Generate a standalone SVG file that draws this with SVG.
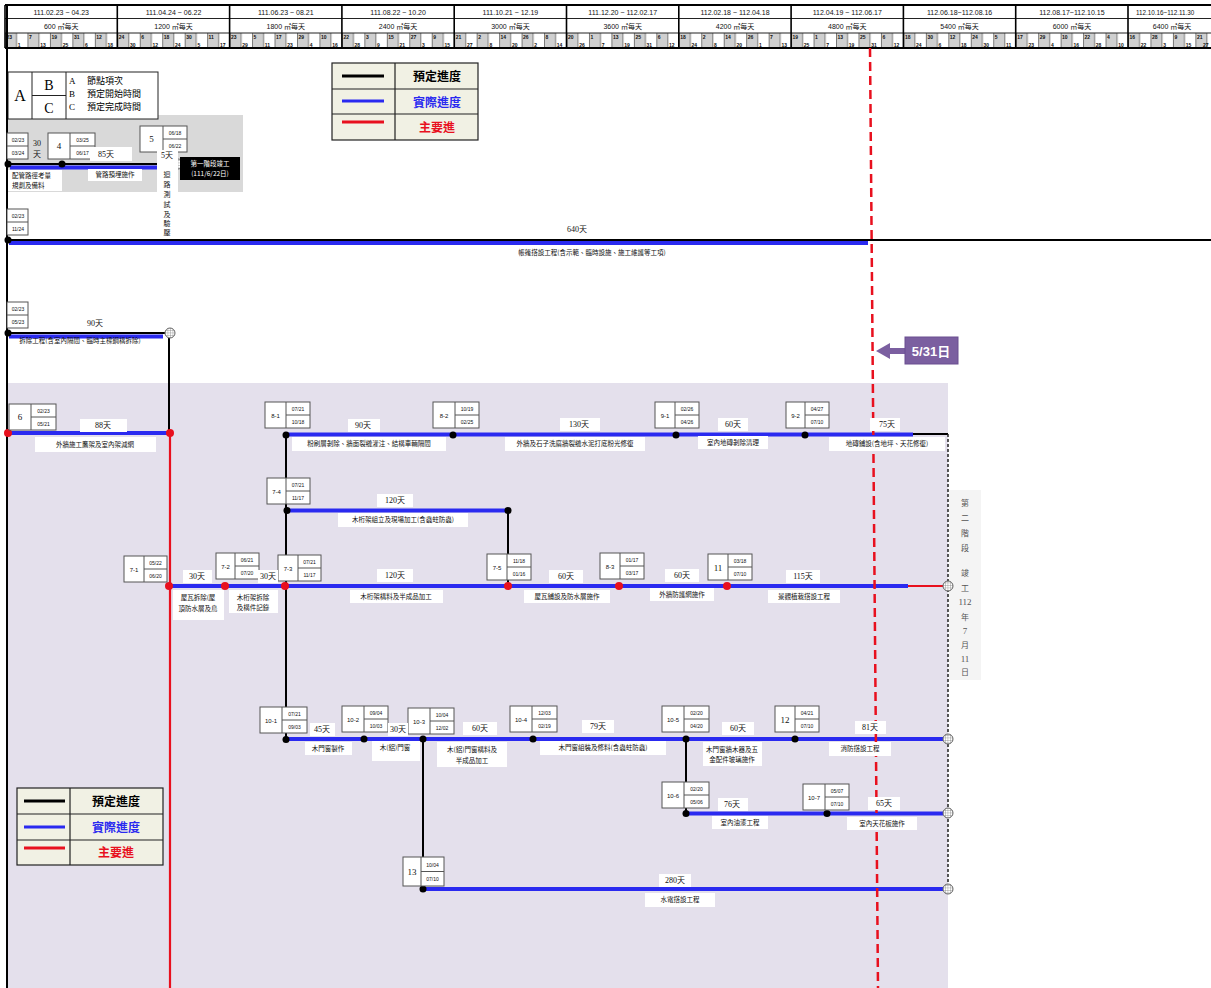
<svg xmlns="http://www.w3.org/2000/svg" width="1211" height="988" viewBox="0 0 1211 988">
<defs>
<pattern id="dayCells" x="5" y="33" width="22.46" height="15" patternUnits="userSpaceOnUse">
<rect width="11.23" height="15" fill="#cfcfcf"/><rect x="11.23" width="11.23" height="15" fill="#fff"/>
<path d="M0.3 0V15M11.53 0V15" stroke="#333" stroke-width="0.7"/>
</pattern>
<pattern id="grid" width="2.5" height="2.5" patternUnits="userSpaceOnUse">
<rect width="2.5" height="2.5" fill="#fff"/><path d="M0 0H2.5M0 0V2.5" stroke="#777" stroke-width="0.7"/>
</pattern>
<style>
.hd{font:7px "Liberation Sans","Noto Sans CJK TC",sans-serif;text-anchor:middle;fill:#111}
.dn{font:bold 5px "Liberation Sans",sans-serif;fill:#111}
.lb{font:6.5px "Noto Sans CJK TC",sans-serif;text-anchor:middle;fill:#111}
.du{font:8px "Liberation Serif","Noto Sans CJK TC",serif;text-anchor:middle;fill:#111}
.nb{fill:#fff;stroke:#555;stroke-width:1}
.nl{stroke:#555;stroke-width:1;fill:none}
.nn{font:6px "Liberation Sans",sans-serif;text-anchor:middle;fill:#111}
.nb2{font:9px "Liberation Serif",serif;text-anchor:middle;fill:#111}
.nd{font:5px "Liberation Sans",sans-serif;text-anchor:middle;fill:#111}
.bg{fill:#fff}
.pl{stroke:#000;stroke-width:2;fill:none}
.ac{stroke:#2a2af0;stroke-width:4;fill:none}
.cr{stroke:#e8101e;stroke-width:2.2;fill:none}
.dot{fill:#000}
.rdot{fill:#e8101e}
.end{fill:url(#grid);stroke:#666;stroke-width:1}
.lg{font:bold 12px "Noto Sans CJK TC",sans-serif;text-anchor:middle}
.vt{font:8px "Noto Sans CJK TC","Liberation Serif",serif;text-anchor:middle;fill:#555}
.vs{font:7px "Noto Sans CJK TC",sans-serif;text-anchor:middle;fill:#111}
</style>
</defs>

<rect width="1211" height="988" fill="#fff"/>

<!-- Backgrounds -->
<rect x="8" y="115" width="235" height="77" fill="#d9d9d9"/>
<rect x="8" y="383" width="940" height="605" fill="#e4e0ec"/>
<rect x="949" y="490" width="32" height="190" fill="#f4f4f4"/>

<!-- Header -->
<g id="header">
<rect x="5" y="33" width="1206" height="15" fill="url(#dayCells)"/>
<path d="M5 5H1211M5 18.5H1211M5 33H1211M5 48H1211" stroke="#222" stroke-width="1"/>
<path d="M5 5H1211M5 48H1211" stroke="#000" stroke-width="2"/>
<path d="M5 5V48M117.3 5V48M229.6 5V48M341.9 5V48M454.2 5V48M566.5 5V48M678.8 5V48M791.1 5V48M903.4 5V48M1015.7 5V48M1128 5V48" stroke="#000" stroke-width="1.6"/>
<text class="hd" x="61.2" y="15">111.02.23 ~ 04.23</text>
<text class="hd" x="173.5" y="15">111.04.24 ~ 06.22</text>
<text class="hd" x="285.8" y="15">111.06.23 ~ 08.21</text>
<text class="hd" x="398.1" y="15">111.08.22 ~ 10.20</text>
<text class="hd" x="510.4" y="15">111.10.21 ~ 12.19</text>
<text class="hd" x="622.7" y="15">111.12.20 ~ 112.02.17</text>
<text class="hd" x="735" y="15">112.02.18 ~ 112.04.18</text>
<text class="hd" x="847.3" y="15">112.04.19 ~ 112.06.17</text>
<text class="hd" x="959.6" y="15">112.06.18~112.08.16</text>
<text class="hd" x="1071.9" y="15">112.08.17~112.10.15</text>
<text class="hd" x="1136" y="15" style="text-anchor:start;font-size:6.3px">112.10.16~112.11.30</text>
<text class="hd" x="61.2" y="29">600 ㎡每天</text>
<text class="hd" x="173.5" y="29">1200 ㎡每天</text>
<text class="hd" x="285.8" y="29">1800 ㎡每天</text>
<text class="hd" x="398.1" y="29">2400 ㎡每天</text>
<text class="hd" x="510.4" y="29">3000 ㎡每天</text>
<text class="hd" x="622.7" y="29">3600 ㎡每天</text>
<text class="hd" x="735" y="29">4200 ㎡每天</text>
<text class="hd" x="847.3" y="29">4800 ㎡每天</text>
<text class="hd" x="959.6" y="29">5400 ㎡每天</text>
<text class="hd" x="1071.9" y="29">6000 ㎡每天</text>
<text class="hd" x="1172" y="29">6400 ㎡每天</text>
<text class="dn" y="39"><tspan x="6.5">23</tspan><tspan x="29">7</tspan><tspan x="51.4">19</tspan><tspan x="73.9">31</tspan><tspan x="96.3">12</tspan><tspan x="118.8">24</tspan><tspan x="141.3">6</tspan><tspan x="163.7">18</tspan><tspan x="186.2">30</tspan><tspan x="208.6">11</tspan><tspan x="231.1">23</tspan><tspan x="253.6">5</tspan><tspan x="276">17</tspan><tspan x="298.5">29</tspan><tspan x="320.9">10</tspan><tspan x="343.4">22</tspan><tspan x="365.9">3</tspan><tspan x="388.3">15</tspan><tspan x="410.8">27</tspan><tspan x="433.2">9</tspan><tspan x="455.7">21</tspan><tspan x="478.2">2</tspan><tspan x="500.6">14</tspan><tspan x="523.1">26</tspan><tspan x="545.5">8</tspan><tspan x="568">20</tspan><tspan x="590.5">1</tspan><tspan x="612.9">13</tspan><tspan x="635.4">25</tspan><tspan x="657.8">6</tspan><tspan x="680.3">18</tspan><tspan x="702.8">2</tspan><tspan x="725.2">14</tspan><tspan x="747.7">26</tspan><tspan x="770.1">7</tspan><tspan x="792.6">19</tspan><tspan x="815.1">1</tspan><tspan x="837.5">13</tspan><tspan x="860">25</tspan><tspan x="882.4">6</tspan><tspan x="904.9">18</tspan><tspan x="927.4">30</tspan><tspan x="949.8">12</tspan><tspan x="972.3">24</tspan><tspan x="994.7">5</tspan><tspan x="1017.2">17</tspan><tspan x="1039.7">29</tspan><tspan x="1062.1">10</tspan><tspan x="1084.6">22</tspan><tspan x="1107">4</tspan><tspan x="1129.5">16</tspan><tspan x="1152">28</tspan><tspan x="1174.4">9</tspan><tspan x="1196.9">21</tspan></text>
<text class="dn" y="46.5"><tspan x="17.7">1</tspan><tspan x="40.2">13</tspan><tspan x="62.7">25</tspan><tspan x="85.1">6</tspan><tspan x="107.6">18</tspan><tspan x="130">30</tspan><tspan x="152.5">12</tspan><tspan x="175">24</tspan><tspan x="197.4">5</tspan><tspan x="219.9">17</tspan><tspan x="242.3">29</tspan><tspan x="264.8">11</tspan><tspan x="287.3">23</tspan><tspan x="309.7">4</tspan><tspan x="332.2">16</tspan><tspan x="354.6">28</tspan><tspan x="377.1">9</tspan><tspan x="399.6">21</tspan><tspan x="422">3</tspan><tspan x="444.5">15</tspan><tspan x="466.9">27</tspan><tspan x="489.4">8</tspan><tspan x="511.9">20</tspan><tspan x="534.3">2</tspan><tspan x="556.8">14</tspan><tspan x="579.2">26</tspan><tspan x="601.7">7</tspan><tspan x="624.2">19</tspan><tspan x="646.6">31</tspan><tspan x="669.1">12</tspan><tspan x="691.5">24</tspan><tspan x="714">8</tspan><tspan x="736.5">20</tspan><tspan x="758.9">1</tspan><tspan x="781.4">13</tspan><tspan x="803.8">25</tspan><tspan x="826.3">7</tspan><tspan x="848.8">19</tspan><tspan x="871.2">31</tspan><tspan x="893.7">12</tspan><tspan x="916.1">24</tspan><tspan x="938.6">6</tspan><tspan x="961.1">18</tspan><tspan x="983.5">30</tspan><tspan x="1006">11</tspan><tspan x="1028.4">23</tspan><tspan x="1050.9">4</tspan><tspan x="1073.4">16</tspan><tspan x="1095.8">28</tspan><tspan x="1118.3">10</tspan><tspan x="1140.7">22</tspan><tspan x="1163.2">3</tspan><tspan x="1185.7">15</tspan><tspan x="1203">27</tspan></text>
</g>

<!-- Legends -->
<g id="legend-abc">
<rect x="8" y="72" width="150" height="47" fill="#fff" stroke="#222" stroke-width="1"/>
<path d="M32 72V119M66 72V119M32 95.5H66" stroke="#222" stroke-width="1"/>
<text x="20" y="101" style="font:16px 'Liberation Serif',serif;text-anchor:middle">A</text>
<text x="49" y="90" style="font:14px 'Liberation Serif',serif;text-anchor:middle">B</text>
<text x="49" y="113" style="font:14px 'Liberation Serif',serif;text-anchor:middle">C</text>
<text x="69" y="84" style="font:9px 'Liberation Serif',serif">A</text>
<text x="69" y="97" style="font:9px 'Liberation Serif',serif">B</text>
<text x="69" y="110" style="font:9px 'Liberation Serif',serif">C</text>
<text x="87" y="84" style="font:9px 'Noto Sans CJK TC',sans-serif">節點項次</text>
<text x="87" y="97" style="font:9px 'Noto Sans CJK TC',sans-serif">預定開始時間</text>
<text x="87" y="110" style="font:9px 'Noto Sans CJK TC',sans-serif">預定完成時間</text>
</g>
<g id="legend-top">
<rect x="332" y="63" width="146" height="77" fill="#f1f1e4" stroke="#222" stroke-width="1.2"/>
<path d="M332 89H478M332 114H478M395 63V140" stroke="#222" stroke-width="1.2"/>
<path d="M342 76H384" stroke="#000" stroke-width="3"/>
<path d="M342 101H384" stroke="#2a2af0" stroke-width="3"/>
<path d="M342 122H384" stroke="#e8101e" stroke-width="3"/>
<text class="lg" x="437" y="81" fill="#000">預定進度</text>
<text class="lg" x="437" y="107" fill="#2a2af0">實際進度</text>
<text class="lg" x="437" y="132" fill="#e8101e">主要進</text>
</g>
<g id="legend-bottom">
<rect x="17" y="788" width="146" height="77" fill="#f1f1e4" stroke="#222" stroke-width="1.2"/>
<path d="M17 814H163M17 840H163M70 788V865" stroke="#222" stroke-width="1.2"/>
<path d="M24 801H65" stroke="#000" stroke-width="3"/>
<path d="M24 827H65" stroke="#2a2af0" stroke-width="3"/>
<path d="M24 848H65" stroke="#e8101e" stroke-width="3"/>
<text class="lg" x="116" y="806" fill="#000">預定進度</text>
<text class="lg" x="116" y="832" fill="#2a2af0">實際進度</text>
<text class="lg" x="116" y="857" fill="#e8101e">主要進</text>
</g>

<!-- Connectors -->
<g id="connectors">
<path d="M7 5V988" stroke="#000" stroke-width="2"/>
<path class="pl" d="M7 164H173"/>
<path class="ac" d="M10 167.5H163"/>
<path class="pl" d="M7 240H1211"/>
<path class="ac" d="M9 243H868"/>
<path class="pl" d="M7 333H165M169 338V432"/>
<path class="ac" d="M9 336.5H163"/>
<path class="ac" d="M7 433H170"/>
<path class="cr" d="M170 433V988"/>
<path class="pl" d="M286 434H948M286 434V739"/>
<path class="ac" d="M286 434.5H913"/>
<path class="ac" d="M286 510.5H508"/>
<path class="pl" d="M508 510V586"/>
<path class="ac" d="M170 586H908"/>
<path class="cr" d="M908 586H943"/>
<path class="ac" d="M286 739H943"/>
<path class="pl" d="M423 739V889M686 739V813"/>
<path class="ac" d="M686 813.5H943"/>
<path class="ac" d="M423 889H943"/>
<path d="M948 434V889" stroke="#222" stroke-width="1.5" stroke-dasharray="3 2"/>
<circle class="dot" cx="8" cy="164" r="3.5"/>
<circle class="dot" cx="62" cy="164" r="3.5"/>
<circle class="dot" cx="163" cy="164" r="3.5"/>
<circle class="dot" cx="8" cy="240" r="3.5"/>
<circle class="dot" cx="8" cy="333" r="3.5"/>
<circle class="rdot" cx="8" cy="433" r="4"/>
<circle class="rdot" cx="170" cy="433" r="4"/>
<circle class="dot" cx="286" cy="435" r="3.5"/>
<circle class="dot" cx="453" cy="435" r="3.5"/>
<circle class="dot" cx="676" cy="435" r="3.5"/>
<circle class="dot" cx="805" cy="435" r="3.5"/>
<circle class="dot" cx="287" cy="510.5" r="3.5"/>
<circle class="dot" cx="508" cy="510.5" r="3.5"/>
<circle class="rdot" cx="169" cy="586" r="4"/>
<circle class="rdot" cx="225" cy="586" r="4"/>
<circle class="rdot" cx="285" cy="586" r="4"/>
<circle class="rdot" cx="508" cy="586" r="4"/>
<circle class="rdot" cx="619" cy="586" r="4"/>
<circle class="rdot" cx="727" cy="586" r="4"/>
<circle class="dot" cx="286" cy="739.5" r="3.5"/>
<circle class="dot" cx="364" cy="739" r="3.5"/>
<circle class="dot" cx="423" cy="739" r="3.5"/>
<circle class="dot" cx="533" cy="739" r="3.5"/>
<circle class="dot" cx="686" cy="739" r="3.5"/>
<circle class="dot" cx="795" cy="739" r="3.5"/>
<circle class="dot" cx="686" cy="813.5" r="3.5"/>
<circle class="dot" cx="827" cy="813.5" r="3.5"/>
<circle class="dot" cx="423" cy="889" r="3.5"/>
<circle class="end" cx="178" cy="164" r="5"/>
<circle class="end" cx="170" cy="333" r="5"/>
<circle class="end" cx="948" cy="586" r="5"/>
<circle class="end" cx="948" cy="739" r="5"/>
<circle class="end" cx="948" cy="813" r="5"/>
<circle class="end" cx="948" cy="889" r="5"/>
<path d="M870 48L878 988" stroke="#e8101e" stroke-width="2.5" stroke-dasharray="9 5"/>
</g>

<!-- Stage 1 -->
<g id="stage1">
<g id="node-s1a" transform="translate(7,133)"><rect class="nb" width="21" height="26"/><path class="nl" d="M0 13H21"/><text class="nd" x="11" y="9">02/23</text><text class="nd" x="11" y="22">03/24</text></g>
<text class="du" x="37" y="146">30</text><text class="du" x="37" y="157">天</text>
<g id="node-4" transform="translate(48,133)"><rect class="nb" width="47" height="26"/><path class="nl" d="M22 0V26M22 13H47"/><text class="nb2" x="11" y="16">4</text><text class="nd" x="34.5" y="9">03/25</text><text class="nd" x="34.5" y="22">06/17</text></g>
<rect class="bg" x="90" y="147" width="42" height="14"/><text class="du" x="106" y="157">85天</text>
<g id="node-5" transform="translate(140,126)"><rect class="nb" width="47" height="26"/><path class="nl" d="M23 0V26M23 13H47"/><text class="nb2" x="11.5" y="16">5</text><text class="nd" x="35" y="9">06/18</text><text class="nd" x="35" y="22">06/22</text></g>
<rect class="bg" x="157" y="150" width="21" height="42"/>
<text class="du" x="167" y="158">5天</text>
<text class="vs" x="167" y="177">迴</text><text class="vs" x="167" y="187">路</text><text class="vs" x="167" y="197">測</text><text class="vs" x="167" y="207">試</text><text class="vs" x="167" y="217">及</text><text class="vs" x="167" y="226">驗</text><text class="vs" x="167" y="235">壓</text>
<rect x="180" y="157" width="60" height="23" fill="#000"/>
<text x="210" y="166" style="font:6.5px 'Noto Sans CJK TC',sans-serif;text-anchor:middle;fill:#fff">第一階段竣工</text>
<text x="210" y="176" style="font:6.5px 'Noto Sans CJK TC',sans-serif;text-anchor:middle;fill:#fff">(111/6/22日)</text>
<rect class="bg" x="8" y="170" width="54" height="21"/>
<text class="lb" x="12" y="178" style="text-anchor:start">配管路徑考量</text>
<text class="lb" x="12" y="188" style="text-anchor:start">規劃及備料</text>
<rect class="bg" x="88" y="169" width="54" height="12"/>
<text class="lb" x="115" y="177">管路預埋施作</text>
</g>

<g id="task-640">
<g id="node-s1b" transform="translate(7,209)"><rect class="nb" width="21" height="26"/><path class="nl" d="M0 13H21"/><text class="nd" x="11" y="9">02/23</text><text class="nd" x="11" y="22">11/24</text></g>
<text class="du" x="577" y="232">640天</text>
<text class="lb" x="592" y="255">帳篷搭設工程(含示範、臨時設施、施工維護等工項)</text>
</g>

<g id="task-demolition">
<g id="node-s1c" transform="translate(7,302)"><rect class="nb" width="21" height="26"/><path class="nl" d="M0 13H21"/><text class="nd" x="11" y="9">02/23</text><text class="nd" x="11" y="22">05/23</text></g>
<text class="du" x="95" y="326">90天</text>
<text class="lb" x="80" y="343">拆除工程(含室內隔間、臨時主樑鋼構拆除)</text>
</g>

<g id="task-6">
<g id="node-6" transform="translate(9,404)"><rect class="nb" width="47" height="26"/><path class="nl" d="M22 0V26M22 13H47"/><text class="nb2" x="11" y="16">6</text><text class="nd" x="34.5" y="9">02/23</text><text class="nd" x="34.5" y="22">05/21</text></g>
<rect class="bg" x="80" y="419" width="47" height="13"/><text class="du" x="103" y="428">88天</text>
<rect class="bg" x="35" y="437" width="121" height="15"/><text class="lb" x="95" y="447">外牆施工鷹架及室內架減網</text>
</g>

<g id="row8">
<g id="node-8-1" transform="translate(265,402)"><rect class="nb" width="45" height="26"/><path class="nl" d="M21 0V26M21 13H45"/><text class="nn" x="10.5" y="15.5">8-1</text><text class="nd" x="33" y="9">07/21</text><text class="nd" x="33" y="22">10/18</text></g>
<g id="node-8-2" transform="translate(433,402)"><rect class="nb" width="46" height="26"/><path class="nl" d="M22 0V26M22 13H46"/><text class="nn" x="11" y="15.5">8-2</text><text class="nd" x="34" y="9">10/19</text><text class="nd" x="34" y="22">02/25</text></g>
<g id="node-9-1" transform="translate(655,402)"><rect class="nb" width="44" height="26"/><path class="nl" d="M20 0V26M20 13H44"/><text class="nn" x="10" y="15.5">9-1</text><text class="nd" x="32" y="9">02/26</text><text class="nd" x="32" y="22">04/26</text></g>
<g id="node-9-2" transform="translate(786,402)"><rect class="nb" width="43" height="26"/><path class="nl" d="M19 0V26M19 13H43"/><text class="nn" x="9.5" y="15.5">9-2</text><text class="nd" x="31" y="9">04/27</text><text class="nd" x="31" y="22">07/10</text></g>
<rect class="bg" x="348" y="419" width="32" height="13"/><text class="du" x="363" y="428">90天</text>
<rect class="bg" x="560" y="418" width="40" height="13"/><text class="du" x="579" y="427">130天</text>
<rect class="bg" x="718" y="418" width="30" height="13"/><text class="du" x="733" y="427">60天</text>
<rect class="bg" x="870" y="418" width="30" height="13"/><text class="du" x="887" y="427">75天</text>
<rect class="bg" x="292" y="437" width="154" height="14"/><text class="lb" x="369" y="446">粉刷層剝除、牆面裂縫灌注、結構車輛隔間</text>
<rect class="bg" x="505" y="437" width="140" height="14"/><text class="lb" x="575" y="446">外牆及石子洗磨牆裂縫水泥打底粉光修復</text>
<rect class="bg" x="698" y="436" width="70" height="13"/><text class="lb" x="733" y="445">室內地磚剝除清理</text>
<rect class="bg" x="829" y="437" width="116" height="14"/><text class="lb" x="887" y="446">地磚鋪設(含地坪、天花修復)</text>
</g>

<g id="row7-4">
<g id="node-7-4" transform="translate(267,478)"><rect class="nb" width="43" height="26"/><path class="nl" d="M19 0V26M19 13H43"/><text class="nn" x="9.5" y="15.5">7-4</text><text class="nd" x="31" y="9">07/21</text><text class="nd" x="31" y="22">11/17</text></g>
<rect class="bg" x="377" y="494" width="36" height="13"/><text class="du" x="395" y="503">120天</text>
<rect class="bg" x="338" y="513" width="130" height="14"/><text class="lb" x="403" y="522">木桁架組立及現場加工(含蟲蛀防蟲)</text>
</g>

<g id="row7">
<g id="node-7-1" transform="translate(124,556)"><rect class="nb" width="43" height="26"/><path class="nl" d="M20 0V26M20 13H43"/><text class="nn" x="10" y="15.5">7-1</text><text class="nd" x="31.5" y="9">05/22</text><text class="nd" x="31.5" y="22">06/20</text></g>
<g id="node-7-2" transform="translate(216,553)"><rect class="nb" width="43" height="26"/><path class="nl" d="M19 0V26M19 13H43"/><text class="nn" x="9.5" y="15.5">7-2</text><text class="nd" x="31" y="9">06/21</text><text class="nd" x="31" y="22">07/20</text></g>
<g id="node-7-3" transform="translate(278,555)"><rect class="nb" width="43" height="26"/><path class="nl" d="M20 0V26M20 13H43"/><text class="nn" x="10" y="15.5">7-3</text><text class="nd" x="31.5" y="9">07/21</text><text class="nd" x="31.5" y="22">11/17</text></g>
<g id="node-7-5" transform="translate(487,554)"><rect class="nb" width="44" height="26"/><path class="nl" d="M20 0V26M20 13H44"/><text class="nn" x="10" y="15.5">7-5</text><text class="nd" x="32" y="9">11/18</text><text class="nd" x="32" y="22">01/16</text></g>
<g id="node-8-3" transform="translate(600,553)"><rect class="nb" width="44" height="26"/><path class="nl" d="M20 0V26M20 13H44"/><text class="nn" x="10" y="15.5">8-3</text><text class="nd" x="32" y="9">01/17</text><text class="nd" x="32" y="22">03/17</text></g>
<g id="node-11" transform="translate(708,554)"><rect class="nb" width="44" height="26"/><path class="nl" d="M20 0V26M20 13H44"/><text class="nb2" x="10" y="16.5">11</text><text class="nd" x="32" y="9">03/18</text><text class="nd" x="32" y="22">07/10</text></g>
<rect class="bg" x="183" y="570" width="29" height="13"/><text class="du" x="197" y="579">30天</text>
<rect class="bg" x="258" y="570" width="20" height="13"/><text class="du" x="268" y="579">30天</text>
<rect class="bg" x="377" y="569" width="36" height="13"/><text class="du" x="395" y="578">120天</text>
<rect class="bg" x="549" y="570" width="34" height="13"/><text class="du" x="566" y="579">60天</text>
<rect class="bg" x="665" y="569" width="34" height="13"/><text class="du" x="682" y="578">60天</text>
<rect class="bg" x="786" y="570" width="34" height="13"/><text class="du" x="803" y="579">115天</text>
<rect class="bg" x="173" y="590" width="51" height="30"/>
<text class="lb" x="198" y="600">屋瓦拆除(屋</text><text class="lb" x="198" y="611">頂防水層及鳥</text>
<rect class="bg" x="229" y="590" width="49" height="23"/>
<text class="lb" x="253" y="600">木桁架拆除</text><text class="lb" x="253" y="610">及構件記錄</text>
<rect class="bg" x="350" y="590" width="93" height="13"/><text class="lb" x="396" y="599">木桁架構料及半成品加工</text>
<rect class="bg" x="524" y="590" width="86" height="13"/><text class="lb" x="567" y="599">屋瓦鋪設及防水層施作</text>
<rect class="bg" x="650" y="588" width="64" height="13"/><text class="lb" x="682" y="597">外牆防護網施作</text>
<rect class="bg" x="768" y="590" width="72" height="13"/><text class="lb" x="804" y="599">景觀植栽搭設工程</text>
</g>

<g id="stage2-complete">
<text class="vt" x="965" y="506">第</text><text class="vt" x="965" y="521">二</text><text class="vt" x="965" y="536">階</text><text class="vt" x="965" y="551">段</text>
<text class="vt" x="965" y="576">竣</text><text class="vt" x="965" y="591">工</text>
<text class="vt" x="965" y="605" style="font-family:'Liberation Serif',serif;font-size:9px">112</text>
<text class="vt" x="965" y="620">年</text>
<text class="vt" x="965" y="634" style="font-family:'Liberation Serif',serif;font-size:9px">7</text>
<text class="vt" x="965" y="648">月</text>
<text class="vt" x="965" y="662" style="font-family:'Liberation Serif',serif;font-size:9px">11</text>
<text class="vt" x="965" y="675">日</text>
</g>

<g id="row10">
<g id="node-10-1" transform="translate(260,707)"><rect class="nb" width="47" height="26"/><path class="nl" d="M22 0V26M22 13H47"/><text class="nn" x="11" y="15.5">10-1</text><text class="nd" x="34.5" y="9">07/21</text><text class="nd" x="34.5" y="22">09/03</text></g>
<g id="node-10-2" transform="translate(342,706)"><rect class="nb" width="46" height="26"/><path class="nl" d="M22 0V26M22 13H46"/><text class="nn" x="11" y="15.5">10-2</text><text class="nd" x="34" y="9">09/04</text><text class="nd" x="34" y="22">10/03</text></g>
<g id="node-10-3" transform="translate(408,708)"><rect class="nb" width="46" height="26"/><path class="nl" d="M22 0V26M22 13H46"/><text class="nn" x="11" y="15.5">10-3</text><text class="nd" x="34" y="9">10/04</text><text class="nd" x="34" y="22">12/02</text></g>
<g id="node-10-4" transform="translate(510,706)"><rect class="nb" width="47" height="26"/><path class="nl" d="M22 0V26M22 13H47"/><text class="nn" x="11" y="15.5">10-4</text><text class="nd" x="34.5" y="9">12/03</text><text class="nd" x="34.5" y="22">02/19</text></g>
<g id="node-10-5" transform="translate(662,706)"><rect class="nb" width="47" height="26"/><path class="nl" d="M22 0V26M22 13H47"/><text class="nn" x="11" y="15.5">10-5</text><text class="nd" x="34.5" y="9">02/20</text><text class="nd" x="34.5" y="22">04/20</text></g>
<g id="node-12" transform="translate(775,706)"><rect class="nb" width="44" height="26"/><path class="nl" d="M20 0V26M20 13H44"/><text class="nb2" x="10" y="16.5">12</text><text class="nd" x="32" y="9">04/21</text><text class="nd" x="32" y="22">07/10</text></g>
<rect class="bg" x="310" y="723" width="25" height="13"/><text class="du" x="322" y="732">45天</text>
<rect class="bg" x="388" y="723" width="20" height="13"/><text class="du" x="398" y="732">30天</text>
<rect class="bg" x="463" y="722" width="34" height="13"/><text class="du" x="480" y="731">60天</text>
<rect class="bg" x="582" y="720" width="32" height="13"/><text class="du" x="598" y="729">79天</text>
<rect class="bg" x="722" y="722" width="32" height="13"/><text class="du" x="738" y="731">60天</text>
<rect class="bg" x="855" y="721" width="31" height="13"/><text class="du" x="870" y="730">81天</text>
<rect class="bg" x="305" y="742" width="47" height="13"/><text class="lb" x="328" y="751">木門窗製作</text>
<rect class="bg" x="372" y="741" width="48" height="20"/><text class="lb" x="395" y="750">木(鋁)門窗</text>
<rect class="bg" x="437" y="742" width="70" height="25"/>
<text class="lb" x="472" y="752">木(鋁)門窗構料及</text><text class="lb" x="472" y="763">半成品加工</text>
<rect class="bg" x="540" y="741" width="126" height="14"/><text class="lb" x="603" y="750">木門窗組裝及修料(含蟲蛀防蟲)</text>
<rect class="bg" x="703" y="742" width="59" height="24"/>
<text class="lb" x="732" y="752">木門窗牆木器及五</text><text class="lb" x="732" y="762">金配件玻璃施作</text>
<rect class="bg" x="829" y="742" width="62" height="14"/><text class="lb" x="860" y="751">消防搭設工程</text>
</g>

<g id="row10-6">
<g id="node-10-6" transform="translate(662,782)"><rect class="nb" width="47" height="26"/><path class="nl" d="M22 0V26M22 13H47"/><text class="nn" x="11" y="15.5">10-6</text><text class="nd" x="34.5" y="9">02/20</text><text class="nd" x="34.5" y="22">05/06</text></g>
<g id="node-10-7" transform="translate(803,784)"><rect class="nb" width="46" height="26"/><path class="nl" d="M22 0V26M22 13H46"/><text class="nn" x="11" y="15.5">10-7</text><text class="nd" x="34" y="9">05/07</text><text class="nd" x="34" y="22">07/10</text></g>
<rect class="bg" x="718" y="798" width="30" height="13"/><text class="du" x="732" y="807">76天</text>
<rect class="bg" x="868" y="797" width="32" height="13"/><text class="du" x="884" y="806">65天</text>
<rect class="bg" x="712" y="816" width="56" height="13"/><text class="lb" x="740" y="825">室內油漆工程</text>
<rect class="bg" x="847" y="817" width="70" height="13"/><text class="lb" x="882" y="826">室內天花板施作</text>
</g>

<g id="row13">
<g id="node-13" transform="translate(403,857)"><rect class="nb" width="41" height="29"/><path class="nl" d="M18 0V29M18 14.5H41"/><text class="nb2" x="9" y="18">13</text><text class="nd" x="29.5" y="10">10/04</text><text class="nd" x="29.5" y="24">07/10</text></g>
<rect class="bg" x="659" y="874" width="32" height="13"/><text class="du" x="675" y="883">280天</text>
<rect class="bg" x="645" y="893" width="70" height="14"/><text class="lb" x="680" y="902">水電搭設工程</text>
</g>

<g id="callout-today">
<polygon points="876,351 890,343 890,348 905,348 905,354 890,354 890,359" fill="#7b5fa0"/>
<rect x="905" y="337" width="53" height="27" fill="#7b5fa0" stroke="#6a4e90" stroke-width="1"/>
<text x="931" y="356" style="font:bold 13px 'Liberation Sans','Noto Sans CJK TC',sans-serif;text-anchor:middle;fill:#fff">5/31日</text>
</g>
</svg>
